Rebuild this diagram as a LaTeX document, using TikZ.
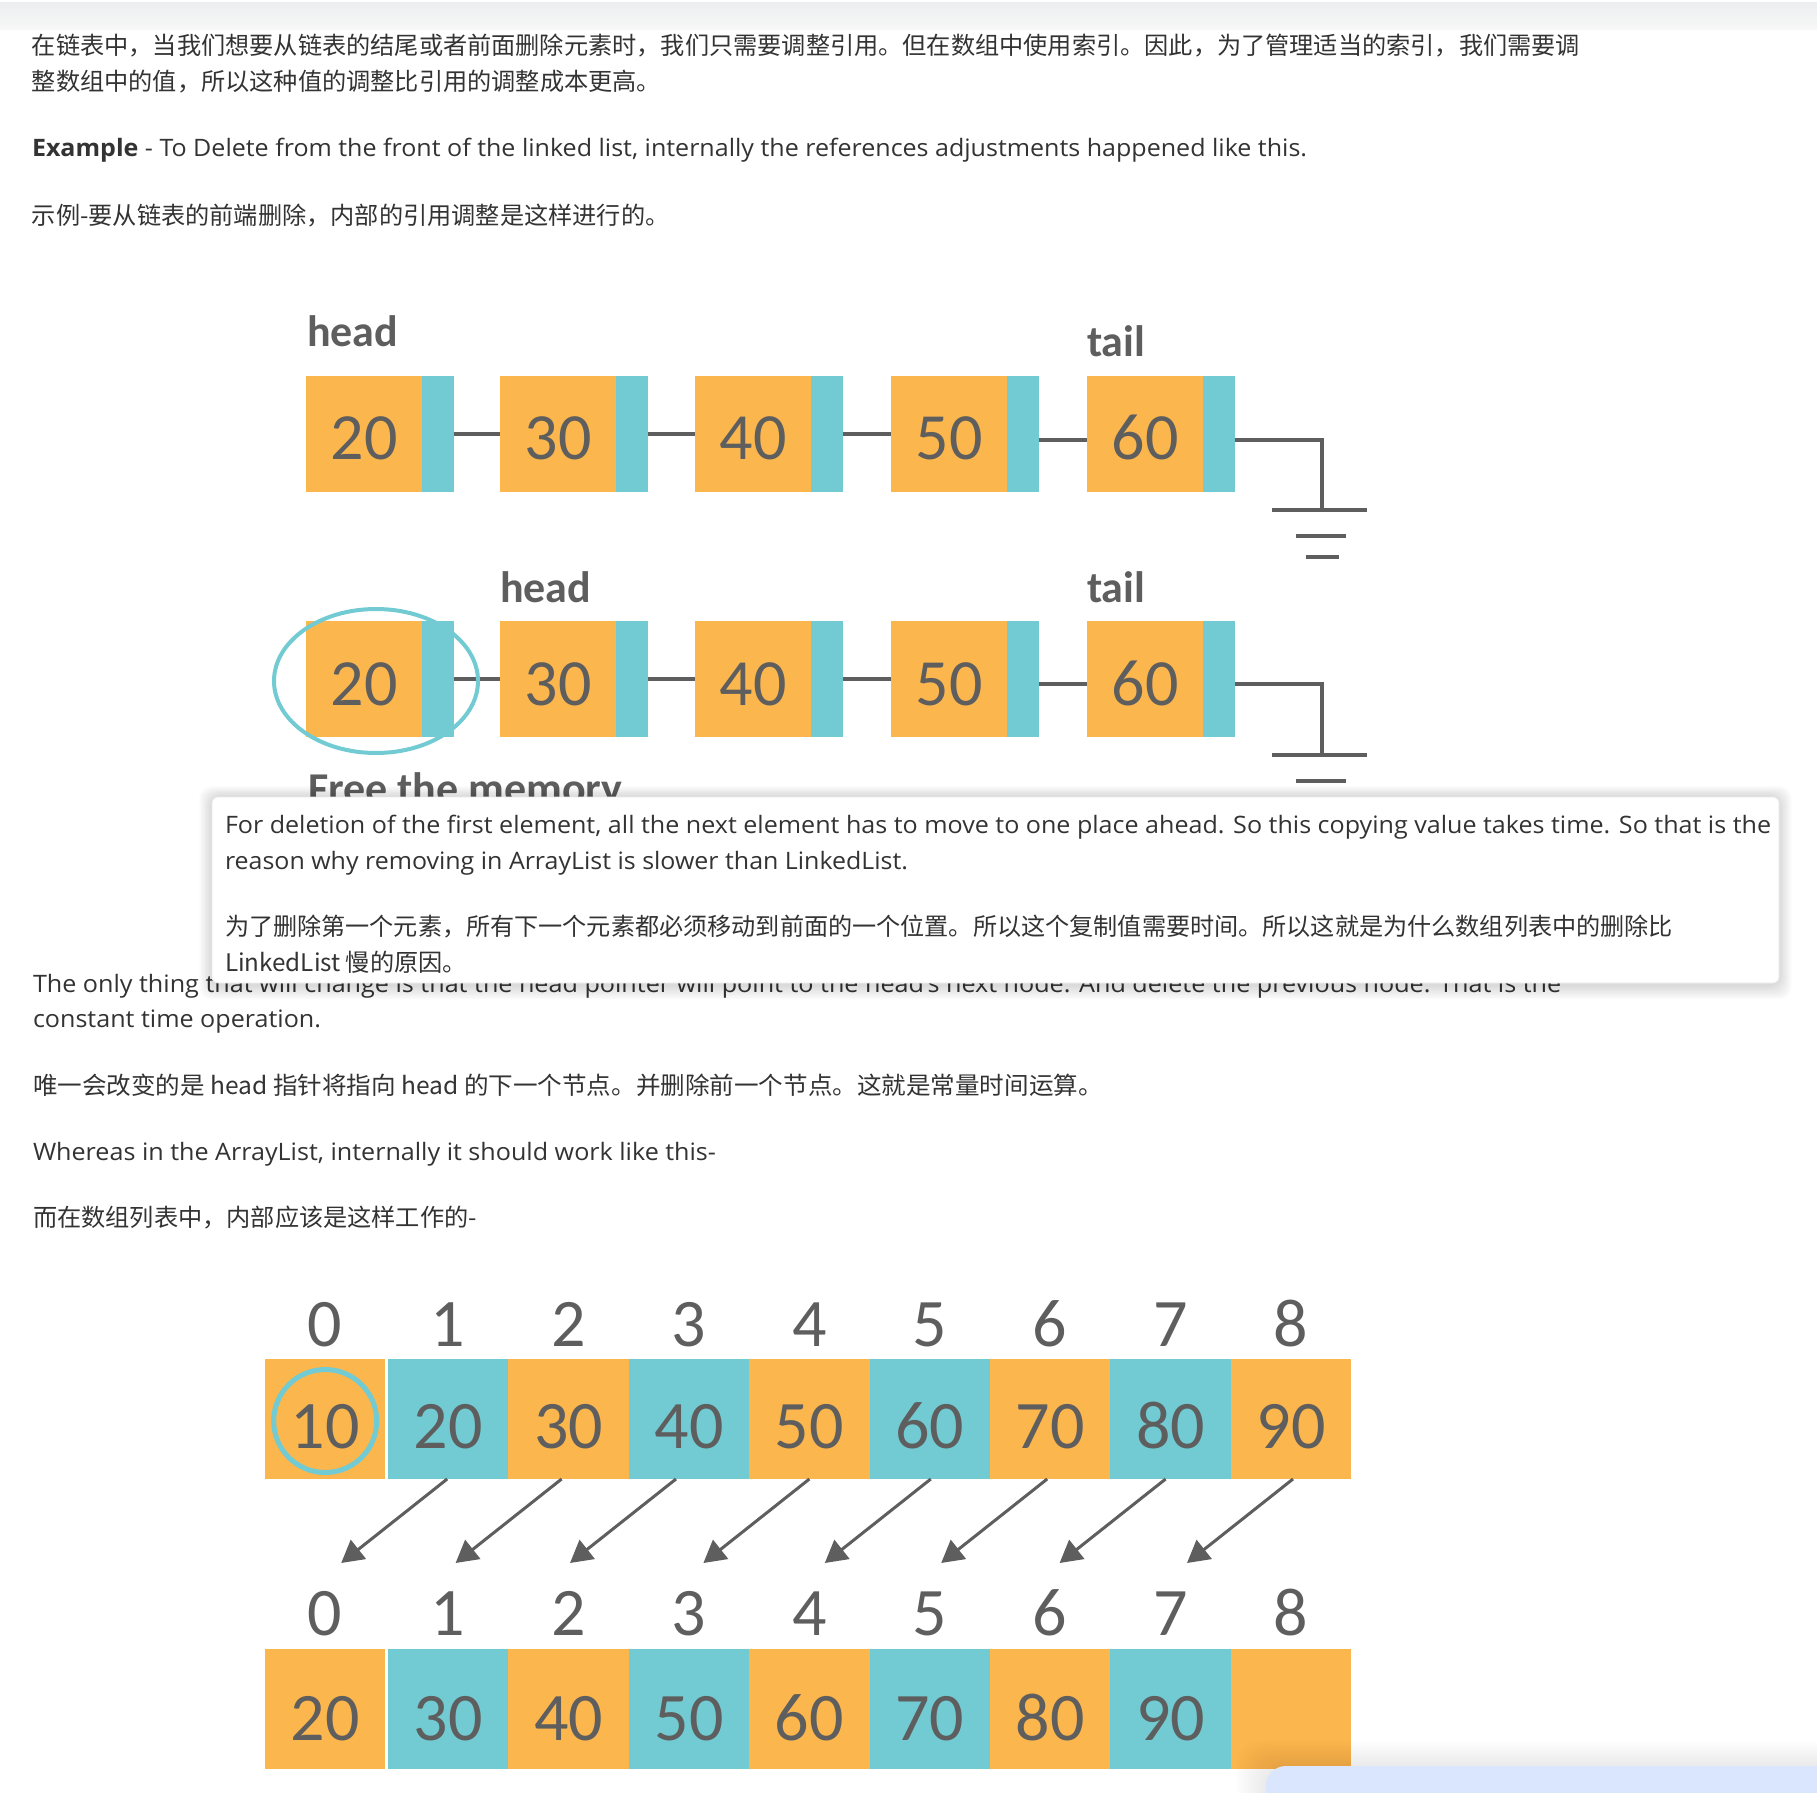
\documentclass[tikz,border=0pt]{standalone}
\usepackage{fontspec}
\usepackage{graphicx}
\setmainfont{Open Sans}
\newfontfamily\cjk{Noto Sans CJK SC}
\newfontfamily\dia{Carlito}
\usetikzlibrary{arrows.meta,calc}
\newlength\pxu \setlength\pxu{0.5pt}
\newcommand\fitline[2]{\resizebox{#1\pxu}{\height}{#2}}
\definecolor{org}{HTML}{FBB64D}
\definecolor{tl}{HTML}{72CBD3}
\definecolor{dg}{HTML}{5E5E5E}
\definecolor{bodytxt}{HTML}{333333}
\definecolor{bandtop}{HTML}{EDEEF0}
\definecolor{bluebox}{HTML}{D9E6FD}
\begin{document}
\begin{tikzpicture}[x=0.5pt,y=-0.5pt,
  every node/.style={inner sep=0pt,outer sep=0pt},
  txt/.style={anchor=base west,text=bodytxt,font=\fontsize{12}{14}\selectfont},
  ctxt/.style={anchor=base west,text=bodytxt,font=\cjk\fontsize{12.1}{14}\selectfont},
  dlab/.style={anchor=base west,text=dg,font=\dia\bfseries\fontsize{22}{26}\selectfont},
  dnum/.style={anchor=base,text=dg,font=\dia\fontsize{33}{36}\selectfont},
  anum/.style={anchor=base,text=dg,font=\dia\fontsize{34}{37}\selectfont},
  obox/.style={fill=org,minimum width=58pt,minimum height=58pt,anchor=north west},
  tbox/.style={fill=tl,minimum width=16pt,minimum height=58pt,anchor=north west},
  conn/.style={draw=dg,line width=1.75pt},
  gbar/.style={draw=dg,line width=2pt},
  acell/.style={minimum width=60.2pt,minimum height=60pt,anchor=north west},
  arr/.style={draw=dg,line width=1.5pt,-{Triangle[length=11pt,width=12pt]}},
  tring/.style={draw=tl,line width=2pt}]
\useasboundingbox (0,0) rectangle (1817,1793);
\clip (0,0) rectangle (1817,1793);
\fill[white] (0,0) rectangle (1817,1793);
\shade[top color=bandtop,bottom color=white!97!black] (0,3) rectangle (1817,30);

% ---------- body text ----------
\node[ctxt] (t1) at (32,55) {\fitline{1548}{在链表中，当我们想要从链表的结尾或者前面删除元素时，我们只需要调整引用。但在数组中使用索引。因此，为了管理适当的索引，我们需要调}};
\node[ctxt] (t2) at (32,91) {整数组中的值，所以这种值的调整比引用的调整成本更高。};
\node[txt] (t3) at (32,157) {\fitline{1275}{\textbf{Example} - To Delete from the front of the linked list, internally the references adjustments happened like this.}};
\node[ctxt] (t4) at (32,225) {示例-要从链表的前端删除，内部的引用调整是这样进行的。};

% ---------- linked list, row 1 ----------
\node[dlab] (h1) at (307,346) {head};
\node[dlab] (tl1) at (1087,356) {tail};
\foreach \i/\x/\v in {1/306/20,2/500/30,3/695/40,4/891/50,5/1087/60} {
  \node[obox] (a\i) at (\x,376) {};
  \node[tbox] (ta\i) at (a\i.north east) {};
  \node[dnum] (va\i) at ($(a\i.north)+(0,83)$) {\v};
}
\draw[conn] (ta1.east) -- (a2.west);
\draw[conn] (ta2.east) -- (a3.west);
\draw[conn] (ta3.east) -- (a4.west);
\draw[conn] ([yshift=-3pt]ta4.east) -- ([yshift=-3pt]a5.west);
\coordinate (g1) at (1322,510);
\draw[conn] ([yshift=-3pt]ta5.east) -| (g1);
\draw[gbar] ($(g1)+(-50,0)$) -- ($(g1)+(45,0)$);
\draw[gbar] ($(g1)+(-26,26)$) -- ($(g1)+(24,26)$);
\draw[gbar] ($(g1)+(-16,47)$) -- ($(g1)+(17,47)$);

% ---------- linked list, row 2 ----------
\node[dlab] (h2) at (500,602) {head};
\node[dlab] (tl2) at (1087,602) {tail};
\foreach \i/\x/\v in {1/306/20,2/500/30,3/695/40,4/891/50,5/1087/60} {
  \node[obox] (b\i) at (\x,621) {};
  \node[tbox] (tb\i) at (b\i.north east) {};
  \node[dnum] (vb\i) at ($(b\i.north)+(0,84)$) {\v};
}
\draw[conn] (tb1.east) -- (b2.west);
\draw[conn] (tb2.east) -- (b3.west);
\draw[conn] (tb3.east) -- (b4.west);
\draw[conn] ([yshift=-2.5pt]tb4.east) -- ([yshift=-2.5pt]b5.west);
\coordinate (g2) at (1322,755);
\draw[conn] ([yshift=-2.5pt]tb5.east) -| (g2);
\draw[gbar] ($(g2)+(-50,0)$) -- ($(g2)+(45,0)$);
\draw[gbar] ($(g2)+(-26,26)$) -- ($(g2)+(24,26)$);
\draw[gbar] ($(g2)+(-16,47)$) -- ($(g2)+(17,47)$);
\draw[tring] (376,681) ellipse [x radius=102, y radius=72];
\node[dlab] (free) at (308,803) {Free the memory};

% ---------- text behind popup ----------
\node[txt] (t5) at (33,992) {\fitline{1528}{The only thing that will change is that the head pointer will point to the head's next node. And delete the previous node. That is the}};
\node[txt] (t6) at (33,1027) {\fitline{288}{constant time operation.}};
\node[ctxt] (t7) at (33,1094) {\scalebox{1.015}[1]{唯一会改变的是 head 指针将指向 head 的下一个节点。并删除前一个节点。这就是常量时间运算。}};
\node[txt] (t8) at (33,1160) {\fitline{683}{Whereas in the ArrayList, internally it should work like this-}};
\node[ctxt] (t9) at (33,1226) {而在数组列表中，内部应该是这样工作的-};

% ---------- popup ----------
\foreach \k in {1,...,9} {
  \fill[black,opacity=0.016,rounded corners=6] (212-\k*1.4,797-\k*1.2) rectangle (1779+\k*1.4,985+\k*1.6);
}
\filldraw[fill=white,draw=black!8,rounded corners=3] (212,797) rectangle (1779,983);
\node[txt] (p1) at (225,833) {\fitline{1546}{For deletion of the first element, all the next element has to move to one place ahead. So this copying value takes time. So that is the}};
\node[txt] (p2) at (225,869) {\fitline{683}{reason why removing in ArrayList is slower than LinkedList.}};
\node[ctxt] (p3) at (225,935) {\fitline{1448}{为了删除第一个元素，所有下一个元素都必须移动到前面的一个位置。所以这个复制值需要时间。所以这就是为什么数组列表中的删除比}};
\node[ctxt] (p4) at (225,971) {LinkedList 慢的原因。};

% ---------- array ----------
\foreach \i/\v/\w in {0/10/20,1/20/30,2/30/40,3/40/50,4/50/60,5/60/70,6/70/80,7/80/90,8/90/} {
  \pgfmathsetmacro\cx{ifthenelse(\i==0,265,388+(\i-1)*120.4)}
  \def\cc{org}\ifodd\i\def\cc{tl}\fi
  \node[acell,fill=\cc] (c\i) at (\cx,1359) {};
  \node[anum] (ix\i) at ($(c\i.north)+(0,-13)$) {\i};
  \node[anum] (cv\i) at ($(c\i.north)+(0,89)$) {\v};
  \node[acell,fill=\cc] (d\i) at (\cx,1649) {};
  \node[anum] (jx\i) at ($(d\i.north)+(0,-14)$) {\i};
  \node[anum] (dv\i) at ($(d\i.north)+(0,91)$) {\w};
}
\draw[tring,line width=2.5pt] (cv0.center |- 0,1421) circle [radius=51.5];
\foreach \i/\s in {1/-0.5,2/-3.5,3/-6.5,4/0,5/0.5,6/-1.5,7/-2.5,8/1} {
  \coordinate (e\i) at ($([xshift=\s pt]c\i.south)+(-106,84)$);
  \draw[arr] ([xshift=\s pt]c\i.south) -- (e\i);
}

% ---------- bottom-right panel ----------
\foreach \k in {1,...,10} {
  \fill[black,opacity=0.008,rounded corners=12] (1266-\k*3,1766-\k*2.5) rectangle (1880,1840);
}
\fill[bluebox,rounded corners=10] (1266,1766) rectangle (1880,1840);
\end{tikzpicture}
\end{document}
